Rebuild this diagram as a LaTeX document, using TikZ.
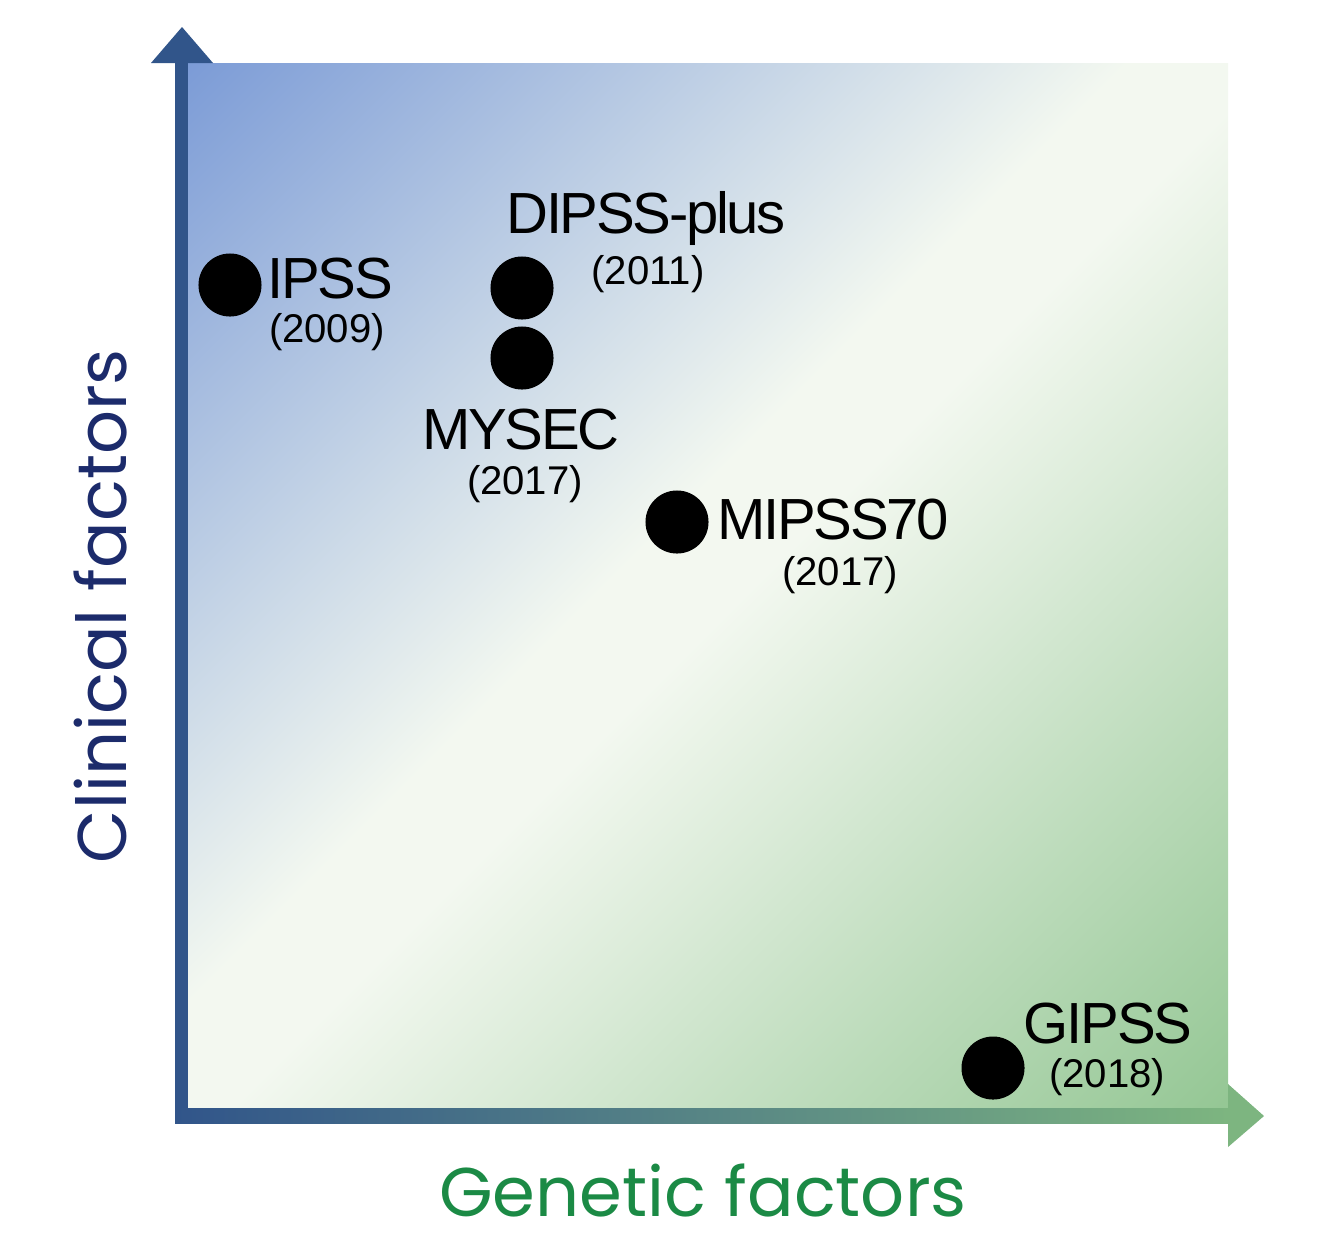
\documentclass[tikz,border=0pt]{standalone}
\usepackage{fontspec}
\setmainfont{Liberation Sans}
\newfontfamily\axisfont{Poppins}
\definecolor{bgblue}{HTML}{7A9AD6}
\definecolor{bggreen}{HTML}{93C693}
\definecolor{bgwhite}{HTML}{F3F8F0}
\definecolor{axblue}{HTML}{31558A}
\definecolor{axgreen}{HTML}{7DB580}
\definecolor{clinblue}{HTML}{1C2B6B}
\definecolor{genegreen}{HTML}{1B8A45}
\pgfdeclarehorizontalshading{quadrant}{100bp}{color(0bp)=(bgblue); color(14bp)=(bgblue);
  color(46.5bp)=(bgwhite); color(51.5bp)=(bgwhite); color(86bp)=(bggreen); color(100bp)=(bggreen)}
\begin{document}
\begin{tikzpicture}[x=0.01cm,y=-0.01cm,
  dot/.style={circle,fill=black,inner sep=0pt,minimum size=0.63cm},
  score/.style={font=\fontsize{16.5}{16.5}\selectfont\addfontfeature{LetterSpace=-4},inner sep=0pt},
  year/.style={font=\fontsize{11.4}{11.4}\selectfont,inner sep=0pt},
  axislabel/.style={font=\axisfont\fontsize{19.6}{19.6}\selectfont,inner sep=0pt}]
  \useasboundingbox (0,0) rectangle (1328,1251);

  % background square
  \shade[shading=quadrant,shading angle=-45] (188,63) rectangle (1228,1108);

  % y axis
  \fill[axblue] (175,63) rectangle (188,1123);
  \fill[axblue] (151,63) -- (182,27) -- (213,63) -- cycle;
  % x axis
  \shade[left color=axblue,right color=axgreen] (175,1108) rectangle (1229,1123);
  \fill[axgreen] (1228,1084) -- (1264,1116) -- (1228,1147) -- cycle;

  % axis labels
  \node[axislabel,rotate=90,text=clinblue,anchor=base] (clin) at (126,606) {Clinical factors};
  \node[axislabel,text=genegreen,anchor=base] (gen) at (703,1216) {Genetic factors};

  % scores
  \node[dot] (ipss) at (230,285) {};
  \node[score,anchor=west] (ipssname) at (267,279) {IPSS};
  \node[year] (ipssyear) at (327,332) {(2009)};

  \node[dot] (dipss) at (522,288) {};
  \node[score] (dipssname) at (646,218) {DIPSS-plus};
  \node[year] (dipssyear) at (648,274) {(2011)};

  \node[dot] (mysec) at (522,358) {};
  \node[score] (mysecname) at (521,430) {MYSEC};
  \node[year] (mysecyear) at (525,484) {(2017)};

  \node[dot] (mipss) at (677,522) {};
  \node[score,anchor=west] (mipssname) at (717,520) {MIPSS70};
  \node[year] (mipssyear) at (840,575) {(2017)};

  \node[dot] (gipss) at (993,1068) {};
  \node[score] (gipssname) at (1108,1024) {GIPSS};
  \node[year] (gipssyear) at (1107,1077) {(2018)};
\end{tikzpicture}
\end{document}
